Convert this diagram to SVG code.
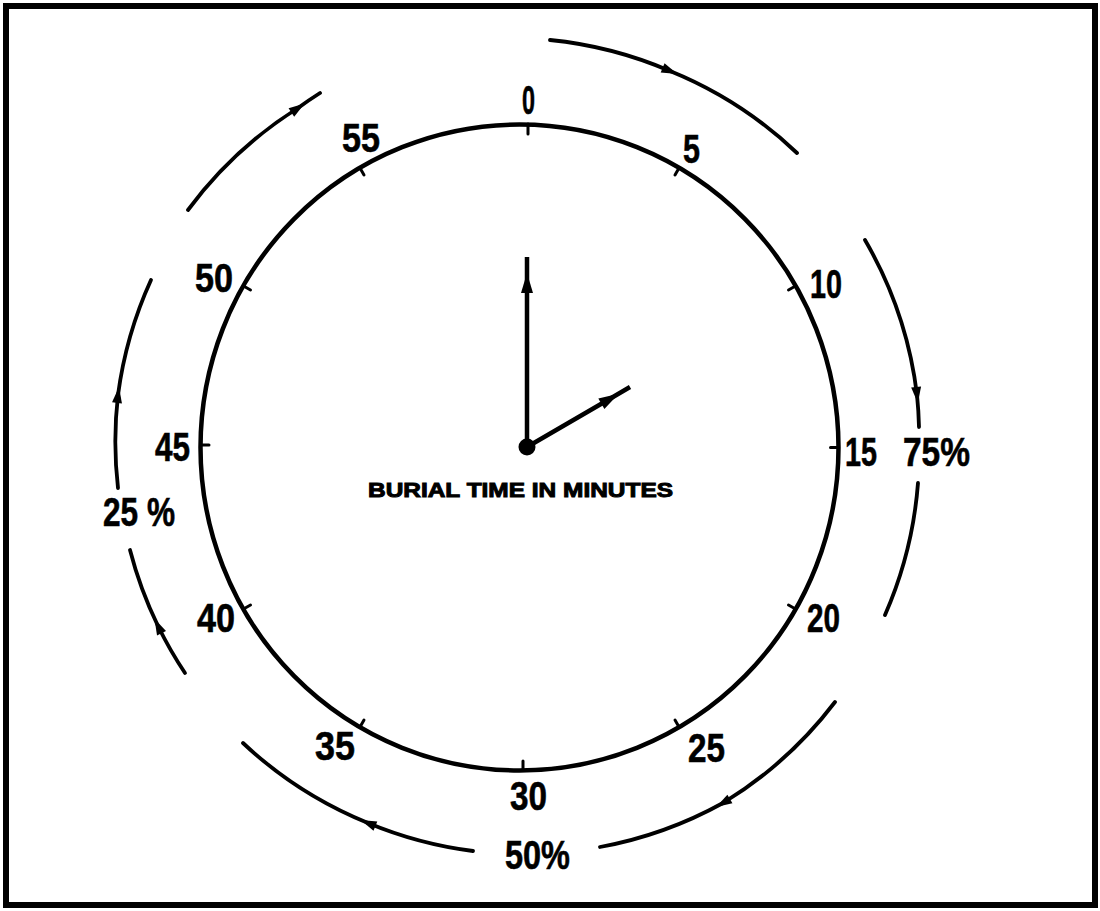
<svg xmlns="http://www.w3.org/2000/svg" width="1100" height="911" viewBox="0 0 1100 911">
  <style>
    .frame { fill: #fff; stroke: #000; stroke-width: 6; }
    .dial { fill: none; stroke: #000; stroke-width: 4.5; }
    .tick { stroke: #000; stroke-width: 3; stroke-linecap: round; }
    .flow { fill: none; stroke: #000; stroke-width: 3.8; stroke-linecap: round; }
    .hand { fill: none; stroke: #000; stroke-width: 4.5; }
    .num { font-family: "Liberation Sans Narrow", "Liberation Sans", Arial, sans-serif; font-weight: bold; font-size: 41px; fill: #000; stroke: #000; stroke-width: 0.6; }
    .cap { font-family: "Liberation Sans", Arial, sans-serif; font-weight: bold; font-size: 21px; fill: #000; stroke: #000; stroke-width: 1; }
  </style>
  <defs>
    <marker id="arr" viewBox="-10 -10 20 20" refX="0" refY="0" markerWidth="20" markerHeight="20" markerUnits="userSpaceOnUse" orient="auto">
      <path d="M-8,-5 L8,0 L-8,5 Z" fill="#000"/>
    </marker>
    <marker id="harr" viewBox="-12 -12 24 24" refX="0" refY="0" markerWidth="24" markerHeight="24" markerUnits="userSpaceOnUse" orient="auto">
      <path d="M-10,-6 L10,0 L-10,6 Z" fill="#000"/>
    </marker>
  </defs>

  <rect class="frame" x="6" y="6" width="1089" height="899"/>

  <g id="dial">
    <ellipse class="dial" cx="519.5" cy="447.5" rx="319" ry="323"/>
    <g id="ticks">
      <line class="tick" x1="528" y1="124" x2="528" y2="134"/>
      <line class="tick" x1="679" y1="168" x2="675" y2="175"/>
      <line class="tick" x1="795.5" y1="286" x2="788.5" y2="290"/>
      <line class="tick" x1="838.5" y1="447.5" x2="830.5" y2="447.5"/>
      <line class="tick" x1="795.5" y1="609" x2="788.5" y2="605"/>
      <line class="tick" x1="679" y1="727" x2="675" y2="720"/>
      <line class="tick" x1="523" y1="770" x2="523" y2="761"/>
      <line class="tick" x1="360" y1="727" x2="364" y2="720"/>
      <line class="tick" x1="243.5" y1="609" x2="250.5" y2="605"/>
      <line class="tick" x1="200.5" y1="445" x2="209" y2="445"/>
      <line class="tick" x1="243.5" y1="286" x2="250.5" y2="290"/>
      <line class="tick" x1="360" y1="168" x2="364" y2="175"/>
    </g>
  </g>

  <g id="labels">
    <text class="num" x="522" y="114" textLength="13" lengthAdjust="spacingAndGlyphs">0</text>
    <text class="num" x="683" y="163" textLength="17" lengthAdjust="spacingAndGlyphs">5</text>
    <text class="num" x="810" y="298" textLength="32" lengthAdjust="spacingAndGlyphs">10</text>
    <text class="num" x="845" y="466" textLength="32" lengthAdjust="spacingAndGlyphs">15</text>
    <text class="num" x="807" y="632" textLength="33" lengthAdjust="spacingAndGlyphs">20</text>
    <text class="num" x="688" y="762" textLength="37" lengthAdjust="spacingAndGlyphs">25</text>
    <text class="num" x="510" y="810" textLength="37" lengthAdjust="spacingAndGlyphs">30</text>
    <text class="num" x="315" y="760" textLength="40" lengthAdjust="spacingAndGlyphs">35</text>
    <text class="num" x="197" y="632" textLength="38" lengthAdjust="spacingAndGlyphs">40</text>
    <text class="num" x="155" y="461" textLength="35" lengthAdjust="spacingAndGlyphs">45</text>
    <text class="num" x="195" y="292" textLength="38" lengthAdjust="spacingAndGlyphs">50</text>
    <text class="num" x="342" y="152" textLength="38" lengthAdjust="spacingAndGlyphs">55</text>
    <text class="num" x="903" y="466" textLength="67" lengthAdjust="spacingAndGlyphs">75%</text>
    <text class="num" x="103" y="526" textLength="72" lengthAdjust="spacingAndGlyphs">25 %</text>
    <text class="num" x="505" y="869" textLength="65" lengthAdjust="spacingAndGlyphs">50%</text>
  </g>

  <g id="connectors">
    <path class="flow" marker-mid="url(#arr)" d="M550,40 A405,405 0 0 1 670,71 A405,405 0 0 1 797,153"/>
    <path class="flow" marker-mid="url(#arr)" d="M865,240 A405,405 0 0 1 917,395 A405,405 0 0 1 919,427"/>
    <path class="flow" d="M918,483 A405,405 0 0 1 885,615"/>
    <path class="flow" marker-mid="url(#arr)" d="M835,702 A405,405 0 0 1 723,803 A405,405 0 0 1 600,847"/>
    <path class="flow" marker-mid="url(#arr)" d="M473,851 A405,405 0 0 1 368,823 A405,405 0 0 1 243,743"/>
    <path class="flow" marker-mid="url(#arr)" d="M185,673 A405,405 0 0 1 158,626 A405,405 0 0 1 130,550"/>
    <path class="flow" marker-mid="url(#arr)" d="M118,488 A405,405 0 0 1 118,395 A405,405 0 0 1 151,280"/>
    <path class="flow" marker-mid="url(#arr)" d="M188,210 A405,405 0 0 1 298,108 A405,405 0 0 1 320,93"/>
  </g>

  <g id="hands">
    <path class="hand" marker-mid="url(#harr)" d="M527,447 L527,283 L527,257"/>
    <path class="hand" marker-mid="url(#harr)" d="M527,447 L610,398.7 L630,387"/>
    <circle cx="527" cy="447" r="8.5" fill="#000"/>
  </g>

  <g id="caption">
    <text class="cap" x="368" y="497" textLength="305" lengthAdjust="spacingAndGlyphs">BURIAL TIME IN MINUTES</text>
  </g>
</svg>
